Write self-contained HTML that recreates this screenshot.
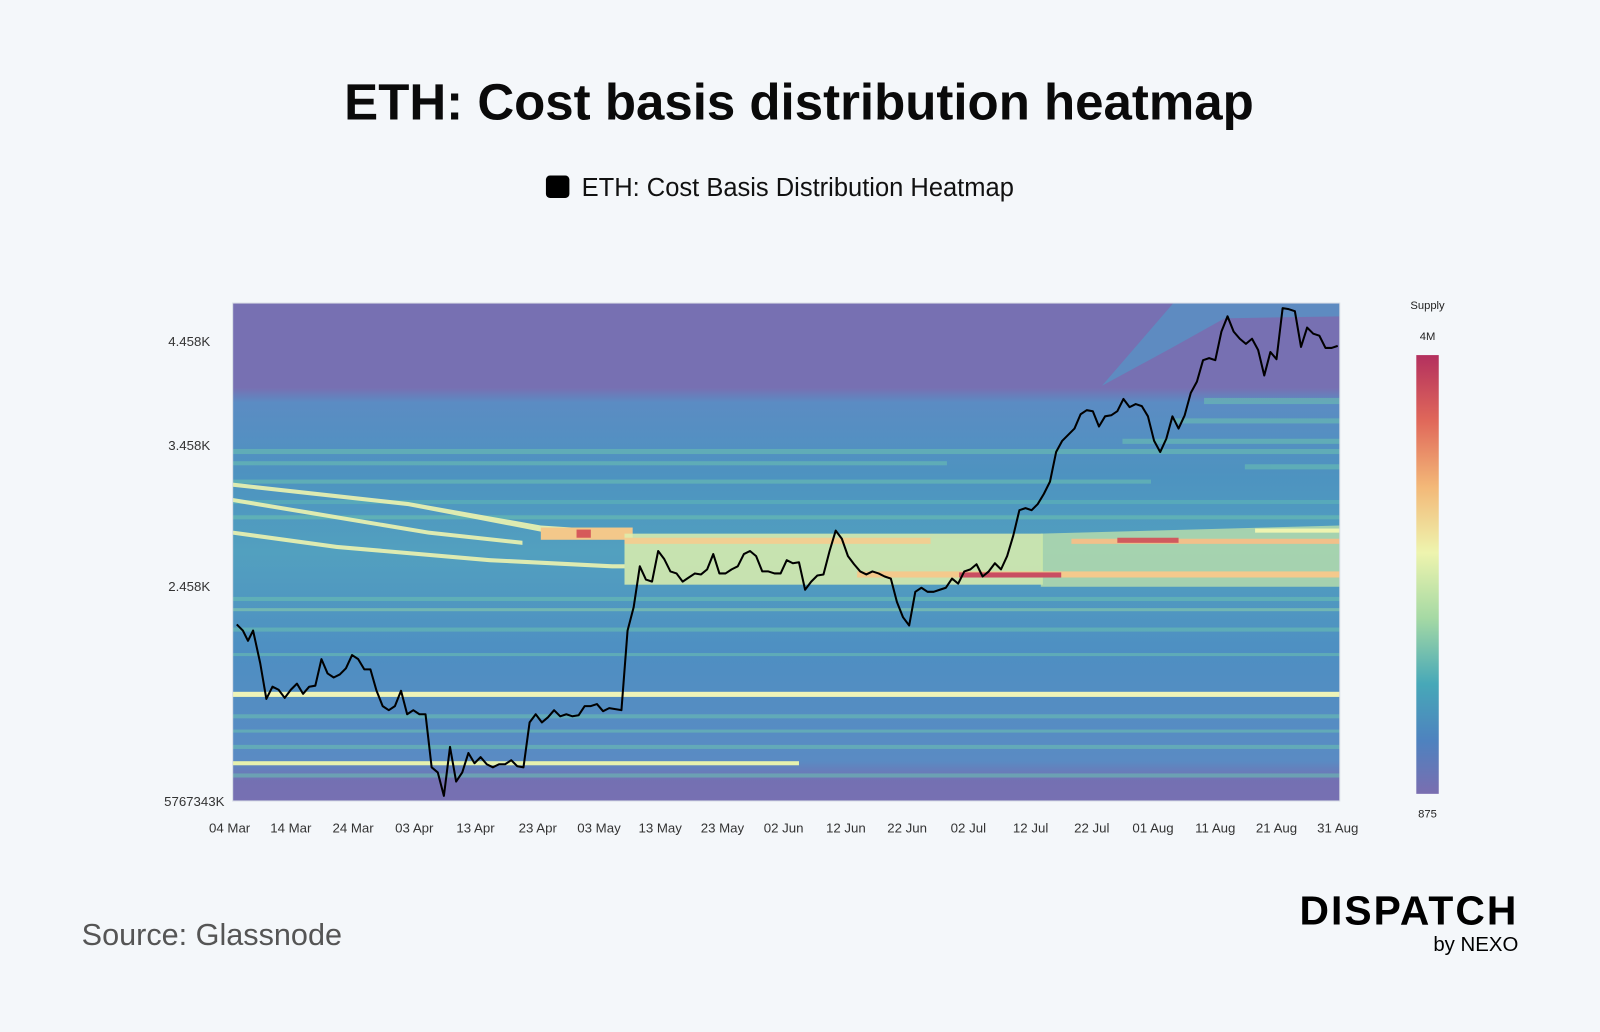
<!DOCTYPE html>
<html><head><meta charset="utf-8"><style>
body{margin:0;background:#f4f7fa;width:1600px;height:1027px;overflow:hidden;font-family:"Liberation Sans",sans-serif;}
</style></head><body>
<svg width="1600" height="1027" viewBox="0 0 1568 1006.5" xmlns="http://www.w3.org/2000/svg" font-family="Liberation Sans, sans-serif">
<rect width="1568" height="1007" fill="#f4f7fa"/>
<text x="783" y="117" text-anchor="middle" font-size="50" font-weight="bold" fill="#0a0a0a">ETH: Cost basis distribution heatmap</text>
<rect x="535" y="172" width="23" height="22" rx="4" fill="#000"/>
<text x="570" y="192" font-size="25" fill="#111">ETH: Cost Basis Distribution Heatmap</text>
<defs>
<clipPath id="c"><rect x="228" y="297" width="1085" height="488"/></clipPath>
<linearGradient id="cb" x1="0" y1="0" x2="0" y2="1">
<stop offset="0" stop-color="#b3305e"/><stop offset="0.15" stop-color="#e0685a"/><stop offset="0.3" stop-color="#f3b878"/><stop offset="0.45" stop-color="#eef4ae"/><stop offset="0.6" stop-color="#a5d9a4"/><stop offset="0.75" stop-color="#47a8b8"/><stop offset="0.88" stop-color="#4e82bf"/><stop offset="1" stop-color="#7a6eb0"/></linearGradient>
<linearGradient id="vb" x1="0" y1="0" x2="0" y2="1">
<stop offset="0" stop-color="#7770b2"/><stop offset="0.17" stop-color="#7770b2"/><stop offset="0.2" stop-color="#5b8cc3"/><stop offset="0.35" stop-color="#4d93c0"/><stop offset="0.5" stop-color="#52a0bf"/><stop offset="0.7" stop-color="#4e8fc2"/><stop offset="0.92" stop-color="#5a8bc3"/><stop offset="0.96" stop-color="#7470b2"/><stop offset="1" stop-color="#7770b2"/></linearGradient>
</defs>
<g clip-path="url(#c)">
<rect x="228" y="297" width="1085" height="488" fill="url(#vb)"/>
<polygon points="1150,297 1313,297 1313,310 1200,312 1150,340 1080,378" fill="#5b8ec2" opacity="0.9"/>
<g opacity="0.55" fill="#6cc3b0">
<rect x="228" y="440" width="1085" height="5"/><rect x="228" y="452" width="700" height="4"/><rect x="228" y="470" width="900" height="4"/>
<rect x="228" y="490" width="1085" height="4" fill="#5fb8b6"/><rect x="228" y="505" width="1085" height="4"/>
<rect x="228" y="585" width="1085" height="4"/><rect x="228" y="596" width="1085" height="3" fill="#8fd3a8"/><rect x="228" y="615" width="1085" height="4"/>
<rect x="228" y="640" width="1085" height="3"/><rect x="228" y="700" width="1085" height="4"/><rect x="228" y="715" width="1085" height="3"/>
<rect x="228" y="730" width="1085" height="4"/><rect x="228" y="758" width="1085" height="4"/>
<rect x="1180" y="390" width="133" height="6"/><rect x="1150" y="410" width="163" height="5"/><rect x="1100" y="430" width="213" height="5"/><rect x="1220" y="455" width="93" height="5"/>
</g>
<g fill="#eef4b0" opacity="0.9">
<polygon points="228,473 400,492 530,515 560,517 560,521 530,521 400,496 228,477"/>
<polygon points="228,520 330,534 480,547 600,553 612,553 612,557 600,557 480,551 330,538 228,524"/>
<polygon points="228,488 300,500 420,520 512,530 512,534 420,524 300,504 228,492"/>
</g>
<rect x="530" y="517" width="90" height="12" fill="#f3c88a"/>
<rect x="565" y="519" width="14" height="8" fill="#d65a5a"/>
<rect x="612" y="523" width="410" height="50" fill="#dcefad" opacity="0.85"/>
<polygon points="1020,523 1313,515 1313,575 1020,575" fill="#c9e8a8" opacity="0.7"/>
<rect x="612" y="527" width="300" height="6" fill="#f1cf92"/>
<rect x="840" y="560" width="473" height="6" fill="#f4c98c"/>
<rect x="940" y="561" width="100" height="5" fill="#c94d62"/>
<rect x="1050" y="528" width="263" height="5" fill="#f1c08a"/>
<rect x="1095" y="527" width="60" height="5" fill="#d05a5e"/>
<rect x="1230" y="518" width="83" height="4" fill="#eef4b0"/>
<rect x="228" y="678" width="1085" height="5" fill="#eef4b8"/>
<rect x="228" y="746" width="555" height="4" fill="#e6f1ae"/>
</g>
<rect x="228" y="297" width="1085" height="488" fill="none" stroke="#d8dde6" stroke-width="1"/>
<polyline clip-path="url(#c)" fill="none" stroke="#000" stroke-width="2" stroke-linejoin="round" points="232,612 238,618 243,628 248,618 255,650 261,685 267,673 273,676 279,684 285,676 291,670 297,680 303,673 309,672 315,646 321,660 327,664 333,661 339,655 345,642 351,646 357,656 363,656 369,677 375,692 381,696 387,692 393,677 399,700 405,696 411,700 417,700 423,752 429,757 435,780 441,732 447,766 453,757 459,738 465,748 471,742 477,749 483,752 489,749 495,749 501,745 507,751 513,752 519,708 525,700 531,708 537,703 543,696 549,702 555,700 561,702 567,701 573,692 579,692 585,690 591,697 597,694 603,695 609,696 615,618 621,595 627,555 633,568 639,570 645,540 651,548 657,560 663,562 669,570 675,566 681,562 687,563 693,558 699,543 705,562 711,562 717,558 723,555 729,543 735,540 741,545 747,560 753,560 759,562 765,562 771,549 777,552 783,551 789,578 795,570 801,564 807,563 813,540 819,520 825,528 831,545 837,553 843,560 849,563 855,560 861,562 867,565 873,567 879,590 885,605 891,613 897,580 903,576 909,580 915,580 921,578 927,576 933,567 939,572 945,560 951,558 957,553 963,565 969,560 975,552 981,558 987,545 993,525 999,500 1005,498 1011,500 1017,494 1023,484 1029,472 1035,443 1041,432 1047,426 1053,420 1059,406 1065,402 1071,403 1077,418 1083,408 1089,407 1095,403 1101,391 1107,399 1113,396 1119,398 1125,408 1131,432 1137,443 1143,430 1149,408 1155,420 1161,407 1167,385 1173,374 1179,353 1185,351 1191,353 1197,325 1203,310 1209,325 1215,332 1221,337 1227,332 1233,343 1239,368 1245,345 1251,352 1257,302 1263,303 1269,305 1275,340 1281,321 1287,327 1293,329 1299,341 1305,341 1311,339"/>
<g font-size="13" fill="#333" text-anchor="end">
<text x="206" y="339">4.458K</text><text x="206" y="441">3.458K</text><text x="206" y="579">2.458K</text><text x="220" y="790">5767343K</text>
</g>
<g font-size="13" fill="#333" text-anchor="middle">
<text x="225" y="816">04 Mar</text><text x="285" y="816">14 Mar</text><text x="346" y="816">24 Mar</text><text x="406" y="816">03 Apr</text><text x="466" y="816">13 Apr</text><text x="527" y="816">23 Apr</text><text x="587" y="816">03 May</text><text x="647" y="816">13 May</text><text x="708" y="816">23 May</text><text x="768" y="816">02 Jun</text><text x="829" y="816">12 Jun</text><text x="889" y="816">22 Jun</text><text x="949" y="816">02 Jul</text><text x="1010" y="816">12 Jul</text><text x="1070" y="816">22 Jul</text><text x="1130" y="816">01 Aug</text><text x="1191" y="816">11 Aug</text><text x="1251" y="816">21 Aug</text><text x="1311" y="816">31 Aug</text>
</g>
<g font-size="11" fill="#222" text-anchor="middle">
<text x="1399" y="303">Supply</text><text x="1399" y="333">4M</text><text x="1399" y="801">875</text></g>
<rect x="1388" y="348" width="22" height="430" fill="url(#cb)"/>
<text x="80" y="926" font-size="30" fill="#555">Source: Glassnode</text>
<text x="1488" y="906" text-anchor="end" font-size="40" font-weight="bold" fill="#000" letter-spacing="2">DISPATCH</text>
<text x="1488" y="932" text-anchor="end" font-size="20" fill="#000">by NEXO</text>
</svg>
</body></html>
